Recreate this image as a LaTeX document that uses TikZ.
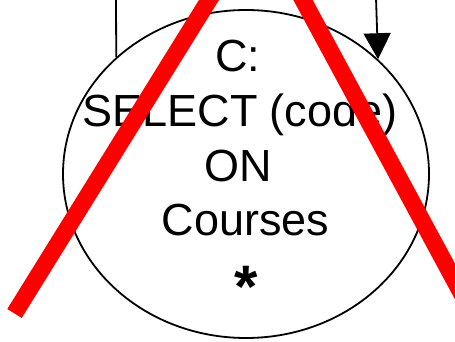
\documentclass[tikz,border=0pt]{standalone}
\usepackage{fontspec}
\setmainfont{Liberation Sans}
\usetikzlibrary{shapes.geometric,arrows.meta}
\begin{document}
\begin{tikzpicture}[x=1pt,y=-1pt,
  outline/.style={draw=black,line width=1.8pt},
  label/.style={font=\fontsize{45}{52}\selectfont,inner sep=0pt,anchor=base},
  strike/.style={draw=red,line width=17pt,line cap=butt}]
  \useasboundingbox (0,0) rectangle (455,342);
  \clip (0,0) rectangle (455,342);

  % selection operator bubble
  \node[outline,ellipse,minimum width=366pt,minimum height=328pt,inner sep=0pt] (sel) at (246,174) {};

  % incoming edges from above
  \coordinate (topL) at (116,-2);
  \coordinate (topR) at (376,-2);
  \draw[outline] (topL) -- (sel.138.4);
  \draw[outline,-{Triangle[width=27pt,length=26pt]}] (topR) -- (sel.41.6);

  % operator text
  \node[label] (lc) at (237.5,72) {C:};
  \node[label] (ls) at (240,126.5) {SELECT (code)};
  \node[label] (lo) at (238.5,181) {ON};
  \node[label] (lr) at (245.5,235) {Courses};
  \node[inner sep=0pt,anchor=base,font=\fontsize{60}{60}\selectfont\bfseries] (la) at (246,307) {*};

  % crossing strokes
  \coordinate (s1a) at (14.5,313.5);
  \coordinate (s1b) at (240,-50);
  \coordinate (s2a) at (276,-50);
  \coordinate (s2b) at (519,400);
  \draw[strike] (s1a) -- (s1b);
  \draw[strike] (s2a) -- (s2b);
\end{tikzpicture}
\end{document}
